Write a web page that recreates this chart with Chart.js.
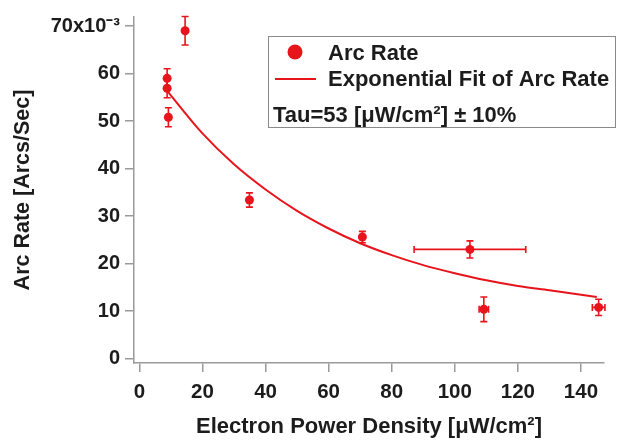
<!DOCTYPE html>
<html>
<head>
<meta charset="utf-8">
<script src="https://cdn.jsdelivr.net/npm/chart.js@4/dist/chart.umd.min.js"></script>
<style>
html,body{margin:0;padding:0;background:#fff;}
#wrap{width:618px;height:440px;position:relative;}
</style>
</head>
<body>
<div id="wrap"><canvas id="c" width="618" height="440"></canvas></div>
<script>
// Measured data (Arc rate, x10^-3 arcs/sec)
const arcX = [8.8, 8.8, 9.2, 14.5, 34.9, 70.7, 104.8, 109.2, 145.6];
const arcY = [59.0, 56.9, 50.8, 69.0, 33.4, 25.6, 23.0, 10.4, 10.8];
const arcYErr = [2.0, 2.0, 2.0, 3.0, 1.5, 1.2, 1.8, 2.6, 1.7];
const arcXErr = [0, 0, 0, 0, 0, 0, 17.7, 1.5, 2.0];

// Exponential fit curve
const fitX = [9, 20, 30, 40, 50, 60, 70, 80, 90, 100, 110, 120, 130, 145];
const fitY = [56.2, 47.4, 40.9, 35.6, 31.1, 27.4, 24.3, 21.8, 19.7, 18.0, 16.5, 15.3, 14.4, 13.0];

const xTicks = [0, 20, 40, 60, 80, 100, 120, 140];
const yTicks = [0, 10, 20, 30, 40, 50, 60, 70];

const RED = '#e8141c';
const AXIS = '#9a9a9a';
const TXT = '#1c1c1c';
const FONT = "'Liberation Sans', Arial, sans-serif";

const errorBars = {
  id: 'errorBars',
  afterDatasetsDraw(chart) {
    const ctx = chart.ctx, xs = chart.scales.x, ys = chart.scales.y;
    ctx.save();
    ctx.strokeStyle = RED;
    ctx.lineWidth = 1.6;
    const cap = 3.5;
    for (let i = 0; i < arcX.length; i++) {
      const px = xs.getPixelForValue(arcX[i]);
      const py = ys.getPixelForValue(arcY[i]);
      if (arcYErr[i] > 0) {
        const t = ys.getPixelForValue(arcY[i] + arcYErr[i]);
        const b = ys.getPixelForValue(arcY[i] - arcYErr[i]);
        ctx.beginPath();
        ctx.moveTo(px, t); ctx.lineTo(px, b);
        ctx.moveTo(px - cap, t); ctx.lineTo(px + cap, t);
        ctx.moveTo(px - cap, b); ctx.lineTo(px + cap, b);
        ctx.stroke();
      }
      if (arcXErr[i] > 0) {
        const l = xs.getPixelForValue(arcX[i] - arcXErr[i]);
        const r = xs.getPixelForValue(arcX[i] + arcXErr[i]);
        ctx.beginPath();
        ctx.moveTo(l, py); ctx.lineTo(r, py);
        ctx.moveTo(l, py - cap); ctx.lineTo(l, py + cap);
        ctx.moveTo(r, py - cap); ctx.lineTo(r, py + cap);
        ctx.stroke();
      }
    }
    ctx.restore();
  }
};

const legendBox = {
  id: 'legendBox',
  afterDraw(chart) {
    const ctx = chart.ctx;
    ctx.save();
    ctx.fillStyle = '#fff';
    ctx.fillRect(268, 36, 348, 92);
    ctx.strokeStyle = '#8a8a8a';
    ctx.lineWidth = 1;
    ctx.strokeRect(268.5, 36.5, 347, 91);
    ctx.fillStyle = RED;
    ctx.beginPath();
    ctx.arc(295, 52, 7.5, 0, Math.PI * 2);
    ctx.fill();
    ctx.strokeStyle = RED;
    ctx.lineWidth = 2;
    ctx.beginPath();
    ctx.moveTo(275, 79); ctx.lineTo(316, 79);
    ctx.stroke();
    ctx.fillStyle = TXT;
    ctx.font = "bold 22px " + FONT;
    ctx.textBaseline = 'alphabetic';
    ctx.textAlign = 'left';
    ctx.fillText('Arc Rate', 328, 59.5);
    ctx.fillText('Exponential Fit of Arc Rate', 328, 85.5);
    ctx.fillText('Tau=53 [\u03BCW/cm\u00B2] \u00B1 10%', 273, 121.5);
    ctx.restore();
  }
};

new Chart(document.getElementById('c'), {
  type: 'scatter',
  data: {
    datasets: [
      {
        label: 'Exponential Fit of Arc Rate',
        data: fitX.map((x, i) => ({ x: x, y: fitY[i] })),
        showLine: true,
        borderColor: RED,
        borderWidth: 2,
        pointRadius: 0,
        fill: false,
        cubicInterpolationMode: 'monotone'
      },
      {
        label: 'Arc Rate',
        data: arcX.map((x, i) => ({ x: x, y: arcY[i] })),
        backgroundColor: RED,
        borderColor: RED,
        pointRadius: 4.5,
        pointBorderWidth: 0,
        showLine: false
      }
    ]
  },
  options: {
    responsive: false,
    animation: false,
    layout: { padding: { top: 16, right: 14, left: 0, bottom: 0 } },
    plugins: { legend: { display: false }, tooltip: { enabled: false } },
    scales: {
      x: {
        type: 'linear',
        min: -1.7,
        max: 147.3,
        afterFit(s) { s.height = 77; },
        afterBuildTicks(s) { s.ticks = xTicks.map(v => ({ value: v })); },
        grid: { drawOnChartArea: false, drawTicks: true, tickLength: 9, color: AXIS, lineWidth: 1.5 },
        border: { color: AXIS, width: 1.5 },
        ticks: { color: TXT, font: { family: FONT, size: 20.5, weight: 'bold' }, padding: 8, maxRotation: 0 },
        title: { display: true, text: 'Electron Power Density [\u03BCW/cm\u00B2]', color: TXT,
                 font: { family: FONT, size: 22, weight: 'bold' }, padding: { top: 0, bottom: 0 } }
      },
      y: {
        type: 'linear',
        min: -0.9,
        max: 71.9,
        afterFit(s) { s.width = 134; },
        afterBuildTicks(s) { s.ticks = yTicks.map(v => ({ value: v })); },
        grid: { drawOnChartArea: false, drawTicks: true, tickLength: 9, color: AXIS, lineWidth: 1.5 },
        border: { color: AXIS, width: 1.5 },
        ticks: {
          color: TXT, font: { family: FONT, size: 20, weight: 'bold' }, padding: 5,
          callback: v => v === 70 ? '70x10\u207B\u00B3' : String(v)
        },
        title: { display: true, text: 'Arc Rate [Arcs/Sec]', color: TXT,
                 font: { family: FONT, size: 21.5, weight: 'bold' }, padding: { top: 10, bottom: 4 } }
      }
    }
  },
  plugins: [errorBars, legendBox]
});
</script>
</body>
</html>
